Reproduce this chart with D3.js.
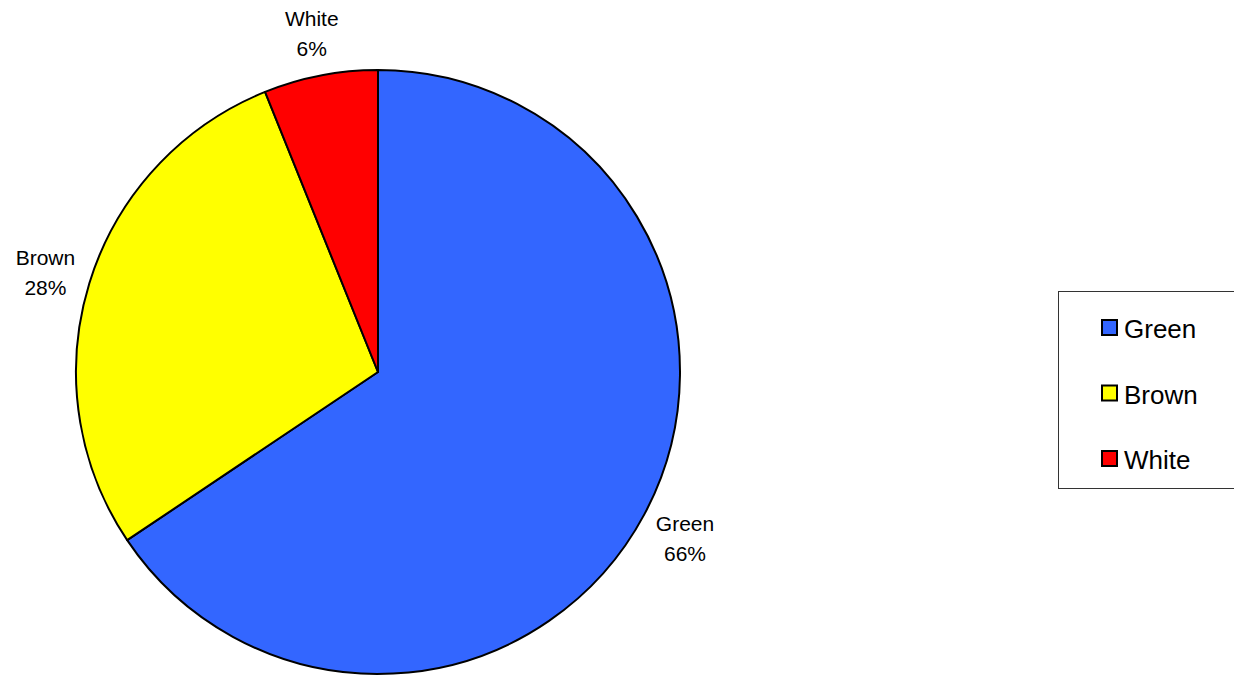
<!DOCTYPE html>
<html>
<head>
<meta charset="utf-8">
<script src="https://cdn.jsdelivr.net/npm/d3@7"></script>
<style>
  html, body { margin: 0; padding: 0; background: #fff; }
  svg { display: block; }
</style>
</head>
<body>
<svg id="chart" width="1234" height="676"></svg>
<script>
const categories = ["Green", "Brown", "White"];
const values = [65.6, 28.3, 6.1];
const colors = ["#3366FF", "#FFFF00", "#FF0000"];

const svg = d3.select("#chart");
const cx = 378, cy = 372, R = 302;
const font = "'Liberation Sans', Arial, sans-serif";

const data = categories.map((c, i) => ({ name: c, value: values[i], color: colors[i] }));
const total = d3.sum(values);

const pie = d3.pie().value(d => d.value).sort(null);
const arc = d3.arc().innerRadius(0).outerRadius(R);
const arcs = pie(data);

const g = svg.append("g").attr("transform", `translate(${cx},${cy})`);
g.selectAll("path.slice")
  .data(arcs)
  .join("path")
  .attr("class", "slice")
  .attr("d", arc)
  .attr("fill", d => d.data.color)
  .attr("stroke", "#000")
  .attr("stroke-width", 2)
  .attr("stroke-linejoin", "round");

// labels centred on each slice's bisector, outside the pie
const labelArc = d3.arc().innerRadius(348).outerRadius(348);
const lineH = 30, fs = 21;
arcs.forEach(a => {
  const [x, y] = labelArc.centroid(a);
  const t = g.append("text")
    .attr("text-anchor", "middle")
    .attr("font-family", font)
    .attr("font-size", fs)
    .attr("fill", "#000");
  t.append("tspan").attr("x", x).attr("y", y - lineH / 2 + 10.5).text(a.data.name);
  t.append("tspan").attr("x", x).attr("y", y + lineH / 2 + 10.5)
    .text(d3.format(".0%")(a.data.value / total));
});

// legend
const leg = svg.append("g").attr("transform", "translate(1058,291)");
leg.append("rect")
  .attr("x", 0.5).attr("y", 0.5)
  .attr("width", 200).attr("height", 197)
  .attr("fill", "#fff")
  .attr("stroke", "#333")
  .attr("stroke-width", 1);
const ly = d3.scalePoint().domain(categories).range([37, 168]);
const items = leg.selectAll("g.item").data(data).join("g")
  .attr("class", "item")
  .attr("transform", d => `translate(0,${ly(d.name)})`);
items.append("rect")
  .attr("x", 44).attr("y", -8)
  .attr("width", 15).attr("height", 15)
  .attr("fill", d => d.color)
  .attr("stroke", "#000")
  .attr("stroke-width", 2);
items.append("text")
  .attr("x", 66).attr("y", 10)
  .attr("font-family", font)
  .attr("font-size", 26)
  .attr("fill", "#000")
  .text(d => d.name);
</script>
</body>
</html>
